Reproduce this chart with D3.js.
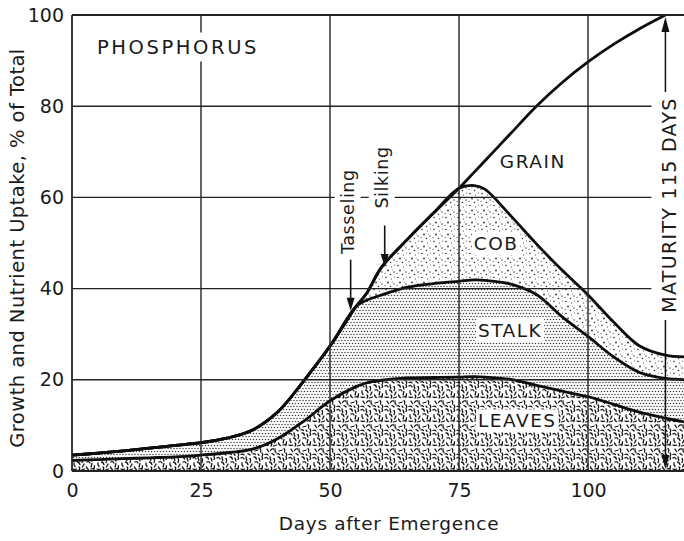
<!DOCTYPE html>
<html>
<head>
<meta charset="utf-8">
<script src="https://cdn.jsdelivr.net/npm/d3@7"></script>
<style>
  html, body { margin: 0; padding: 0; background: #fff; }
  svg { display: block; }
  text { font-family: "DejaVu Sans", "Liberation Sans", sans-serif; fill: #1a1a1a; }
</style>
</head>
<body>
<svg id="chart" width="684" height="541"></svg>
<script>
// ---------------- data ----------------
const days   = [0, 5, 10, 15, 20, 25, 30, 35, 40, 45, 50, 55, 57, 60, 65, 70, 75, 78, 80, 85, 90, 95, 100, 105, 110, 115, 119];
// cumulative tops of each band, % of total
const leaves = [2.3, 2.5, 2.7, 2.9, 3.1, 3.5, 4.0, 4.8, 7.2, 11.0, 15.4, 18.5, 19.3, 19.9, 20.4, 20.5, 20.6, 20.7, 20.6, 20.1, 18.8, 17.5, 16.3, 14.6, 12.9, 11.6, 10.7];
const stalk  = [3.5, 3.9, 4.4, 5.0, 5.6, 6.2, 7.2, 9.0, 13.1, 19.9, 27.4, 36.0, 37.4, 38.6, 40.3, 41.1, 41.6, 41.9, 41.8, 41.0, 38.7, 33.8, 29.5, 25.0, 21.6, 20.3, 20.0];
const cob    = [3.5, 3.9, 4.4, 5.0, 5.6, 6.2, 7.2, 9.0, 13.1, 19.9, 27.4, 36.0, 38.8, 44.7, 50.8, 56.5, 62.0, 62.6, 61.8, 56.0, 49.8, 44.0, 38.6, 32.6, 27.4, 25.4, 25.0];
const grain  = [3.5, 3.9, 4.4, 5.0, 5.6, 6.2, 7.2, 9.0, 13.1, 19.9, 27.4, 36.0, 38.8, 44.7, 50.8, 56.5, 62.0, 65.6, 68.0, 74.0, 80.0, 85.2, 89.7, 93.6, 97.0, 100, null];

const xTicks = [0, 25, 50, 75, 100];
const yTicks = [0, 20, 40, 60, 80, 100];
const xTickLabels = ["0", "25", "50", "75", "100"];
const yTickLabels = ["0", "20", "40", "60", "80", "100"];

const bandLabels = [
  {text: "GRAIN",  day: 89.3, val: 67.8},
  {text: "COB",    day: 82.2, val: 49.8},
  {text: "STALK",  day: 84.9, val: 30.9},
  {text: "LEAVES", day: 86.3, val: 11.0}
];
const events = [
  {text: "Tasseling", day: 54.0, tip: 34.9, top: 47.0},
  {text: "Silking",   day: 60.6, tip: 44.5, top: 54.5}
];
const maturityDay = 115;
const title = "PHOSPHORUS";
const xTitle = "Days after Emergence";
const yTitle = "Growth and Nutrient Uptake, % of Total";
const maturityLabel = "MATURITY 115 DAYS";

// ---------------- layout ----------------
const svg = d3.select("#chart");
const L = 72, R = 684, T = 15, B = 471;
const x = d3.scaleLinear().domain([0, 118.6]).range([L, R]);
const y = d3.scaleLinear().domain([0, 100]).range([B, T]);

const rows = days.map((d, i) => ({d, leaves: leaves[i], stalk: stalk[i], cob: cob[i], grain: grain[i]}));

// ---------------- patterns ----------------
const defs = svg.append("defs");
// leaves: short squiggles
const pl = defs.append("pattern").attr("id", "pLeaves").attr("patternUnits", "userSpaceOnUse")
  .attr("width", 24).attr("height", 24);
pl.append("rect").attr("width", 24).attr("height", 24).attr("fill", "#fff");
["M1,2 q2,-1.5 3,1", "M6,1 l0.8,3.5", "M10,2.5 q1.5,2 0,4", "M14,1 q2,0 2.5,2", "M19,2 l1,3", "M22,0.5 q1,1.5 0,3",
 "M2,7 q-0.5,2 1,3.5", "M5.5,6 q2,0.5 2.5,2.5", "M12,8 l-1.5,3", "M15,6 q2,-1 3,1", "M20,7.5 l-1,3.5",
 "M1,13 q2,1 3.5,0", "M7,11 q1.5,1.5 0,3", "M9.5,14 l3,-1", "M14.5,11 q0.5,2 2,2.5", "M19,13 q2,-1 3,0.5", "M22.5,10 l-0.5,2.5",
 "M3,17 l1.5,2.5", "M6.5,18.5 q1,-2 3,-1.5", "M11,17 q-0.5,2 1,3.5", "M15,19 l3,-1", "M20,16.5 q1.5,1.5 0.5,3.5",
 "M1,22.5 q2,-1 3,0.5", "M8,21.5 l2,1.5", "M13,22 q1.5,-1 2.5,0.5", "M18,22 l1,1.5", "M22,21 q1,1 0.5,2.5"]
  .forEach(p => pl.append("path").attr("d", p).attr("fill", "none").attr("stroke", "#111")
    .attr("stroke-width", 1.3).attr("stroke-linecap", "round"));
// stalk: dense fine stipple
const ps = defs.append("pattern").attr("id", "pStalk").attr("patternUnits", "userSpaceOnUse")
  .attr("width", 6).attr("height", 6);
ps.append("rect").attr("width", 6).attr("height", 6).attr("fill", "#fff");
[[1.5, 1.5], [4.5, 1.5], [0, 4.5], [3, 4.5], [6, 4.5]].forEach(([cx, cy]) =>
  ps.append("circle").attr("cx", cx).attr("cy", cy).attr("r", 0.72).attr("fill", "#3a3a3a"));
// cob: sparser irregular stipple
const pc = defs.append("pattern").attr("id", "pCob").attr("patternUnits", "userSpaceOnUse")
  .attr("width", 12).attr("height", 12);
pc.append("rect").attr("width", 12).attr("height", 12).attr("fill", "#fff");
[[2, 1.5, 0.8], [7.5, 3, 0.6], [4, 6.5, 0.9], [10, 8, 0.7], [1, 9.5, 0.6], [6.5, 10.5, 0.75], [10.5, 1, 0.5], [8.5, 6, 0.45]]
  .forEach(([cx, cy, r]) => pc.append("circle").attr("cx", cx).attr("cy", cy).attr("r", r).attr("fill", "#333"));

defs.append("clipPath").attr("id", "plotClip").append("rect")
  .attr("x", L).attr("y", T).attr("width", R - L).attr("height", B - T);

// ---------------- bands ----------------
const curve = d3.curveCatmullRom.alpha(0.5);
const plot = svg.append("g").attr("clip-path", "url(#plotClip)");
const band = (lo, hi) => d3.area().curve(curve).x(r => x(r.d)).y0(r => lo ? y(r[lo]) : y(0)).y1(r => y(r[hi]));
plot.append("path").datum(rows).attr("d", band(null, "leaves")).attr("fill", "url(#pLeaves)");
plot.append("path").datum(rows).attr("d", band("leaves", "stalk")).attr("fill", "url(#pStalk)");
plot.append("path").datum(rows).attr("d", band("stalk", "cob")).attr("fill", "url(#pCob)");

// ---------------- grid ----------------
const grid = svg.append("g").attr("stroke", "#222").attr("stroke-width", 1.4);
xTicks.filter(t => t > 0).forEach(t =>
  grid.append("line").attr("x1", x(t)).attr("x2", x(t)).attr("y1", y(100)).attr("y2", y(0)));
yTicks.filter(t => t > 0 && t < 100).forEach(t =>
  grid.append("line").attr("x1", x(0)).attr("x2", R).attr("y1", y(t)).attr("y2", y(t)));
// frame
grid.append("line").attr("x1", x(0)).attr("x2", x(0)).attr("y1", y(100)).attr("y2", y(0)).attr("stroke-width", 1.8);
grid.append("line").attr("x1", x(0)).attr("x2", R).attr("y1", y(100)).attr("y2", y(100)).attr("stroke-width", 1.8);
grid.append("line").attr("x1", x(0)).attr("x2", R).attr("y1", y(0)).attr("y2", y(0)).attr("stroke-width", 1.8);

// ---------------- curves ----------------
const lineG = plot.append("g").attr("fill", "none").attr("stroke", "#0d0d0d").attr("stroke-width", 2.8)
  .attr("stroke-linejoin", "round");
["leaves", "stalk", "cob", "grain"].forEach(k =>
  lineG.append("path").datum(rows).attr("d", d3.line().curve(curve)
    .defined(r => r[k] != null).x(r => x(r.d)).y(r => y(r[k]))));

// ---------------- axes ----------------
const xAxis = d3.axisBottom(x).tickValues(xTicks).tickFormat((d, i) => xTickLabels[i]).tickSize(0).tickPadding(13);
const gx = svg.append("g").attr("transform", `translate(0,${B})`).call(xAxis);
gx.select(".domain").remove();
gx.selectAll("text").style("font-size", "19px").attr("fill", "#1a1a1a");

const yAxis = d3.axisLeft(y).tickValues(yTicks).tickFormat((d, i) => yTickLabels[i]).tickSize(0).tickPadding(8);
const gy = svg.append("g").attr("transform", `translate(${L},0)`).call(yAxis);
gy.select(".domain").remove();
gy.selectAll("text").style("font-size", "19px").attr("fill", "#1a1a1a");

svg.append("text").attr("x", 389).attr("y", 530).attr("text-anchor", "middle")
  .style("font-size", "18.5px").style("letter-spacing", "0.7px").text(xTitle);
svg.append("text").attr("transform", "translate(24,248) rotate(-90)").attr("text-anchor", "middle")
  .style("font-size", "19.5px").style("letter-spacing", "0.45px").text(yTitle);

// ---------------- labels with white knock-outs ----------------
function knockText(g, t, size, spacing, pad) {
  const el = g.append("text").attr("text-anchor", "middle").attr("dominant-baseline", "central")
    .style("font-size", size + "px").style("letter-spacing", spacing + "px").text(t);
  const bb = el.node().getBBox();
  g.insert("rect", "text").attr("x", bb.x - pad).attr("y", bb.y - pad + 1)
    .attr("width", bb.width + 2 * pad).attr("height", bb.height + 2 * pad - 2).attr("fill", "#fff");
  return el;
}
const tg = svg.append("g").attr("transform", `translate(${x(0) + 106},${y(100) + 32})`);
knockText(tg, title, 19.5, 2.6, 4);

bandLabels.forEach(b => {
  const g = svg.append("g").attr("transform", `translate(${x(b.day)},${y(b.val)})`);
  knockText(g, b.text, 18.5, 1.5, b.text === "GRAIN" ? 0 : 2);
});

events.forEach(e => {
  const g = svg.append("g").attr("transform", `translate(${x(e.day) - 3},${y(e.top) - 45}) rotate(-90)`);
  knockText(g, e.text, 17.5, 0.6, 4);
  const ax = x(e.day);
  svg.append("line").attr("x1", ax).attr("x2", ax).attr("y1", y(e.top) + 3).attr("y2", y(e.tip) - 8)
    .attr("stroke", "#111").attr("stroke-width", 1.6);
  svg.append("path").attr("d", `M${ax - 4},${y(e.tip) - 14} L${ax + 4},${y(e.tip) - 14} L${ax},${y(e.tip) - 1} Z`)
    .attr("fill", "#111");
});

// maturity marker
const mx = x(maturityDay);
const mg = svg.append("g").attr("transform", `translate(${mx + 4},205) rotate(-90)`);
knockText(mg, maturityLabel, 19, 1.3, 8);
svg.append("line").attr("x1", mx).attr("x2", mx).attr("y1", y(100) + 6).attr("y2", 92)
  .attr("stroke", "#111").attr("stroke-width", 1.5);
svg.append("path").attr("d", `M${mx - 4},${y(100) + 17} L${mx + 4},${y(100) + 17} L${mx},${y(100) + 2} Z`).attr("fill", "#111");
svg.append("line").attr("x1", mx).attr("x2", mx).attr("y1", 320).attr("y2", y(0) - 6)
  .attr("stroke", "#111").attr("stroke-width", 1.5);
svg.append("path").attr("d", `M${mx - 4},${y(0) - 16} L${mx + 4},${y(0) - 16} L${mx},${y(0) - 2} Z`).attr("fill", "#111");
</script>
</body>
</html>
